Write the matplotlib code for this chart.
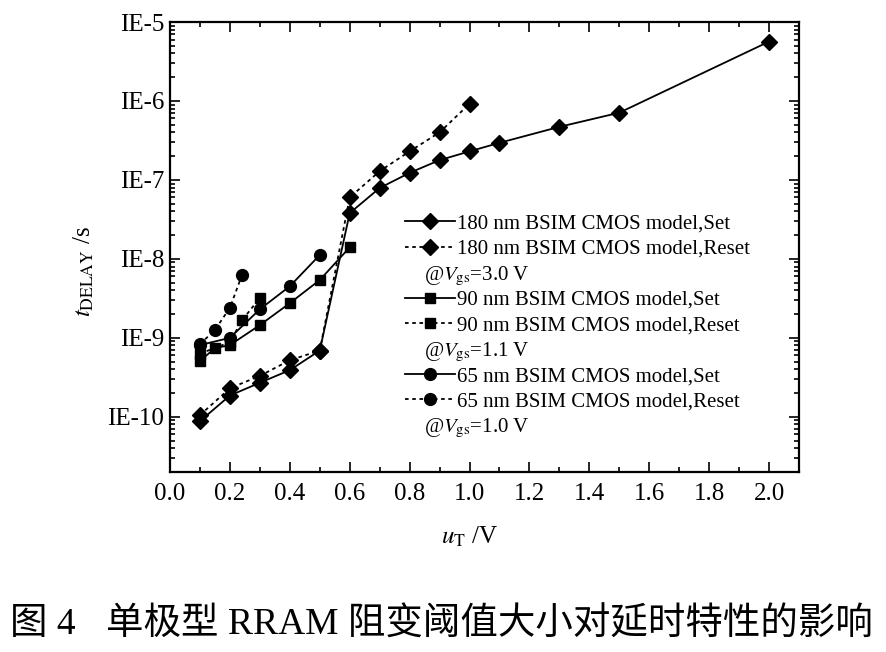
import matplotlib
matplotlib.use('Agg')
import matplotlib.pyplot as plt
from matplotlib.text import Text
from matplotlib.ticker import LogLocator, MultipleLocator, NullFormatter

plt.rcParams['font.family'] = ['Liberation Serif', 'DejaVu Serif']
plt.rcParams['mathtext.fontset'] = 'stix'

# ---------------- data ----------------
x180_set = [0.1, 0.2, 0.3, 0.4, 0.5, 0.6, 0.7, 0.8, 0.9, 1.0, 1.1, 1.3, 1.5, 2.0]
t180_set = [8.8e-11, 1.86e-10, 2.7e-10, 3.9e-10, 6.9e-10, 3.8e-8, 7.9e-8,
            1.23e-7, 1.78e-7, 2.3e-7, 2.95e-7, 4.7e-7, 7.1e-7, 5.65e-6]
x180_reset = [0.1, 0.2, 0.3, 0.4, 0.5, 0.6, 0.7, 0.8, 0.9, 1.0]
t180_reset = [1.05e-10, 2.3e-10, 3.3e-10, 5.2e-10, 6.9e-10, 6.0e-8, 1.29e-7,
              2.3e-7, 4.0e-7, 9.2e-7]

x90_set = [0.1, 0.15, 0.2, 0.3, 0.4, 0.5, 0.6]
t90_set = [5.1e-10, 7.4e-10, 8.1e-10, 1.45e-9, 2.75e-9, 5.4e-9, 1.4e-8]
x90_reset = [0.1, 0.2, 0.24, 0.3]
t90_reset = [6.3e-10, 8.8e-10, 1.66e-9, 3.2e-9]

x65_set = [0.1, 0.2, 0.3, 0.4, 0.5]
t65_set = [8.1e-10, 1.0e-9, 2.3e-9, 4.5e-9, 1.12e-8]
x65_reset = [0.1, 0.15, 0.2, 0.24]
t65_reset = [8.3e-10, 1.26e-9, 2.4e-9, 6.2e-9]

xticks = [0.0, 0.2, 0.4, 0.6, 0.8, 1.0, 1.2, 1.4, 1.6, 1.8, 2.0]
xtick_labels = ['0.0', '0.2', '0.4', '0.6', '0.8', '1.0', '1.2', '1.4', '1.6', '1.8', '2.0']
yticks = [1e-10, 1e-9, 1e-8, 1e-7, 1e-6, 1e-5]
ytick_labels = ['IE-10', 'IE-9', 'IE-8', 'IE-7', 'IE-6', 'IE-5']

series_labels = ['180 nm BSIM CMOS model,Set', '180 nm BSIM CMOS model,Reset',
                 '90 nm BSIM CMOS model,Set', '90 nm BSIM CMOS model,Reset',
                 '65 nm BSIM CMOS model,Set', '65 nm BSIM CMOS model,Reset']
vgs_labels = [r'@$V_{\rm gs}$=3.0 V', r'@$V_{\rm gs}$=1.1 V', r'@$V_{\rm gs}$=1.0 V']
caption_fig = '图 4'
caption_text = '单极型 RRAM 阻变阈值大小对延时特性的影响'

# ---------------- figure ----------------
fig = plt.figure(figsize=(8.86, 6.52), dpi=100)
ax = fig.add_axes([170 / 886, 1 - 472 / 652, 629 / 886, 450 / 652])

dots = (0, (2, 2))
lw = 1.3
h1, = ax.plot(x180_set, t180_set, color='k', ls='-', lw=lw, marker='D', ms=8)
h2, = ax.plot(x180_reset, t180_reset, color='k', ls=dots, lw=lw, marker='D', ms=8)
h3, = ax.plot(x90_set, t90_set, color='k', ls='-', lw=lw, marker='s', ms=7.5)
h4, = ax.plot(x90_reset, t90_reset, color='k', ls=dots, lw=lw, marker='s', ms=7.5)
h5, = ax.plot(x65_set, t65_set, color='k', ls='-', lw=lw, marker='o', ms=8.5)
h6, = ax.plot(x65_reset, t65_reset, color='k', ls=dots, lw=lw, marker='o', ms=8.5)

ax.set_yscale('log')
ax.set_xlim(0, 2.1)
ax.set_ylim(2e-11, 1e-5)
ax.set_xticks(xticks, labels=xtick_labels)
ax.xaxis.set_minor_locator(MultipleLocator(0.1))
ax.set_yticks(yticks, labels=ytick_labels)
ax.yaxis.set_minor_locator(LogLocator(base=10, subs=range(2, 10), numticks=20))
ax.yaxis.set_minor_formatter(NullFormatter())

ax.tick_params(which='both', direction='in', top=True, right=True, width=1.2)
ax.tick_params(which='major', length=7, labelsize=18)
ax.tick_params(which='minor', length=3.5)
ax.tick_params(axis='x', pad=8)
ax.tick_params(axis='y', pad=4)
for s in ax.spines.values():
    s.set_linewidth(1.6)

ax.set_xlabel(r'$u_{\rm T}$ /V', fontsize=18, labelpad=14, x=(470 - 170) / 629)
ax.set_ylabel(r'$t_{\rm DELAY}$ /s', fontsize=18, labelpad=8, y=(472 - 271) / 450)


class VgsNote:
    def __init__(self, text):
        self.text = text


class VgsHandler:
    def legend_artist(self, legend, orig_handle, fontsize, handlebox):
        t = Text(handlebox.xdescent + 14, handlebox.height / 2 - handlebox.ydescent - 3,
                 orig_handle.text, fontsize=fontsize, va='center', ha='left',
                 family=['Liberation Serif', 'DejaVu Serif'])
        handlebox.add_artist(t)
        return t


notes = [VgsNote(t) for t in vgs_labels]
handles = [h1, h2, notes[0], h3, h4, notes[1], h5, h6, notes[2]]
labels = [series_labels[0], series_labels[1], ' ',
          series_labels[2], series_labels[3], ' ',
          series_labels[4], series_labels[5], ' ']
ax.legend(handles, labels, handler_map={VgsNote: VgsHandler()},
          loc='upper left', bbox_to_anchor=((405 - 170) / 629, (472 - 214) / 450),
          frameon=False, fontsize=15, borderpad=0, borderaxespad=0,
          handlelength=2.4, handletextpad=0.1, labelspacing=0.28)

fig.text(10 / 886, 1 - 625 / 652, caption_fig, fontsize=27, va='center', ha='left',
         family=['Liberation Serif', 'Noto Sans CJK SC'])
fig.text(106 / 886, 1 - 625 / 652, caption_text, fontsize=27, va='center', ha='left',
         family=['Liberation Serif', 'Noto Sans CJK SC'])

fig.savefig('out.png', dpi=100)
